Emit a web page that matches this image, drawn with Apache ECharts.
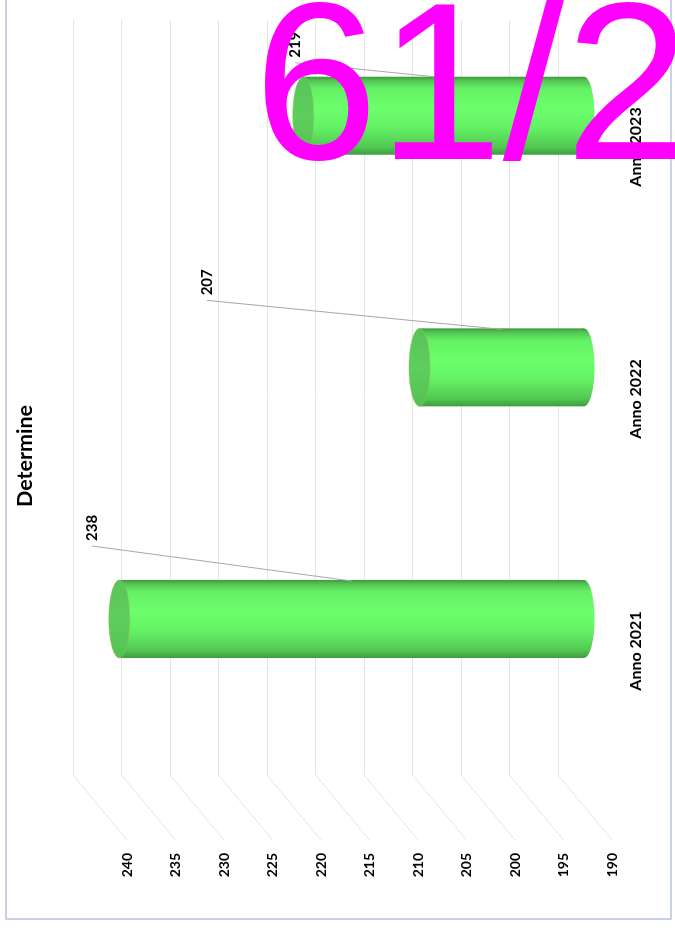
<!DOCTYPE html>
<html><head><meta charset="utf-8">
<script src="https://cdn.jsdelivr.net/npm/echarts@6/dist/echarts.min.js"></script>
<style>
html,body{margin:0;padding:0;width:675px;height:931px;overflow:hidden;background:#fff;}
#chart{position:absolute;left:0;top:0;width:960px;height:700px;transform-origin:0 0;transform:translate(0px,931px) rotate(-90deg);}
</style></head><body><div id="chart"></div>
<script>
// ---- data ----
const chartTitle = 'Determine';
const categories = ['Anno 2021', 'Anno 2022', 'Anno 2023'];
const determine = [238, 207, 219];
const valueTicks = [190, 195, 200, 205, 210, 215, 220, 225, 230, 235, 240];
const overlayText = '61/2';

// ---- style (pixel nudges for the manually placed data labels) ----
const labelNudge = [[73, -27.5], [67, -212.5], [53, -8]];
const axisMin = valueTicks[0], axisMax = valueTicks[valueTicks.length - 1], step = valueTicks[1] - valueTicks[0];
const FONT = 'Lato, "Open Sans", sans-serif';

const chart = echarts.init(document.getElementById('chart'), null, {renderer: 'canvas'});

function bodyGrad() {
  return new echarts.graphic.LinearGradient(0, 0, 1, 0, [
    {offset: 0, color: '#3f9c3f'},
    {offset: 0.1, color: '#52c852'},
    {offset: 0.35, color: '#64f264'},
    {offset: 0.6, color: '#6cff6c'},
    {offset: 0.85, color: '#64f064'},
    {offset: 0.95, color: '#52c452'},
    {offset: 1, color: '#3e983e'}
  ]);
}

function cylinder(params, api) {
  const cat = api.value(0), val = api.value(1);
  const top = api.coord([cat, val]);
  const base = api.coord([cat, axisMin]);
  const hw = api.size([1, 0])[0] * 0.31 / 2;
  const ry = hw * 0.27;
  const cx = top[0];
  const mid = api.coord([cat, (val + axisMin) / 2]);
  const nd = labelNudge[params.dataIndex];
  const sx = cx + nd[0], sy = top[1] + nd[1];
  return {
    type: 'group',
    children: [
      {type: 'ellipse', shape: {cx: cx, cy: base[1], rx: hw, ry: ry}, style: {fill: bodyGrad()}},
      {type: 'rect', shape: {x: cx - hw, y: top[1], width: hw * 2, height: base[1] - top[1]}, style: {fill: bodyGrad()}},
      {type: 'ellipse', shape: {cx: cx, cy: top[1], rx: hw, ry: ry},
        style: {fill: new echarts.graphic.LinearGradient(0, 0, 1, 0, [
          {offset: 0, color: '#55c055'}, {offset: 0.5, color: '#5dcf5d'}, {offset: 1, color: '#57c457'}]),
          stroke: 'rgba(170,180,90,0.6)', lineWidth: 0.7}},
      {type: 'line', shape: {x1: sx, y1: sy, x2: cx + hw - 1, y2: mid[1]}, style: {stroke: '#a8a8a8', lineWidth: 1}},
      {type: 'text', style: {text: String(val), x: sx + 5, y: sy, align: 'left', verticalAlign: 'middle',
        fontSize: 15, fontWeight: 'bold', fontFamily: FONT, fill: '#000'}}
    ]
  };
}

function sideWall(params, api) {
  const cs = params.coordSys;
  const y = api.coord([0, api.value(1)])[1];
  return {type: 'line', shape: {x1: cs.x, y1: y, x2: cs.x - 65, y2: y + 54},
    style: {stroke: '#e6e6e6', lineWidth: 1}};
}

const valAxisBase = {type: 'value', min: axisMin, max: axisMax, interval: step,
  axisLine: {show: false}, axisTick: {show: false}};

chart.setOption({
  animation: false,
  backgroundColor: '#fff',
  title: {text: chartTitle, left: 424, top: 14, padding: 0,
    textStyle: {fontSize: 21.5, fontWeight: 'bold', fontFamily: FONT, color: '#000'}},
  grid: [
    {left: 156, right: 49, top: 73, bottom: 142},   // back wall
    {left: 154, right: 50, top: 127, bottom: 88},   // front plane (labels)
    {left: 186.2, right: 18.9, top: 100, bottom: 116} // bar plane
  ],
  xAxis: [
    {gridIndex: 0, type: 'category', data: categories, show: false},
    {gridIndex: 1, type: 'category', data: categories, axisLine: {show: false}, axisTick: {show: false},
      axisLabel: {interval: 0, margin: 16, fontSize: 16, fontWeight: 'bold', fontFamily: FONT, color: '#000'}},
    {gridIndex: 2, type: 'category', data: categories, show: false}
  ],
  yAxis: [
    Object.assign({gridIndex: 0, axisLabel: {show: false},
      splitLine: {show: true, lineStyle: {color: '#e6e6e6', width: 1}}}, valAxisBase),
    Object.assign({gridIndex: 1, splitLine: {show: false},
      axisLabel: {margin: 76, fontSize: 14, fontWeight: 'bold', fontFamily: FONT, color: '#000'}}, valAxisBase),
    Object.assign({gridIndex: 2, show: false, splitLine: {show: false}}, valAxisBase)
  ],
  graphic: [
    {type: 'rect', shape: {x: 12, y: 6, width: 1000, height: 665}, style: {fill: null, stroke: '#b9c4e0', lineWidth: 1.5}, z: 0},
    {type: 'text', x: 833.5, y: 253.5, rotation: -Math.PI / 2, z: 100,
      style: {text: overlayText, font: '224px "Liberation Sans", Arial, sans-serif', fill: '#ff00ff', align: 'left', verticalAlign: 'middle'}}
  ],
  series: [
    {type: 'custom', xAxisIndex: 0, yAxisIndex: 0, renderItem: sideWall, silent: true,
      data: valueTicks.map(v => [0, v])},
    {type: 'custom', xAxisIndex: 2, yAxisIndex: 2, renderItem: cylinder, silent: true,
      data: categories.map((c, i) => [i, determine[i]])}
  ]
});
</script></body></html>
